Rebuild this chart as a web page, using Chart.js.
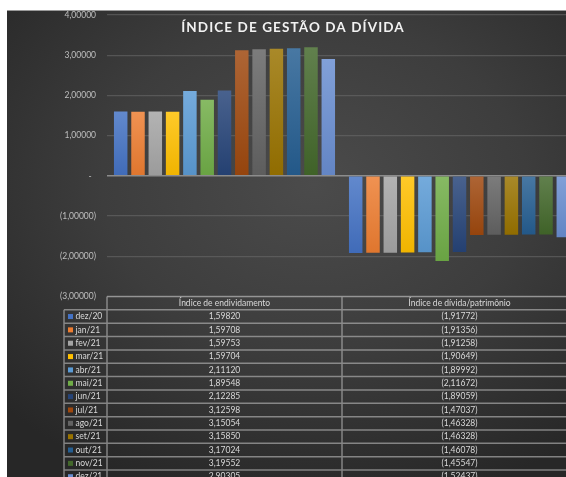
<!DOCTYPE html>
<html>
<head>
<meta charset="utf-8">
<title>Índice de gestão da dívida</title>
<script src="https://cdn.jsdelivr.net/npm/chart.js@4.4.1/dist/chart.umd.min.js"></script>
<style>
  html, body { margin: 0 ; padding: 0 ; background: #ffffff ; width: 566px ; height: 477px ; overflow: hidden ; }
  #moldura {
    position: absolute ; left: 7px ; top: 10px ; width: 590px ; height: 481px ;
    border-top: 1px solid #9a9a9a ;
    background: radial-gradient( ellipse 72% 68% at 52% 36%, #4b4b4b 0%, #3d3d3d 50%, #272727 100% ) ;
  }
  #moldura canvas { position: absolute ; left: 0 ; top: 0 ; }
</style>
</head>
<body>
<div id="moldura"><canvas id="graficoDivida" width="590" height="480"></canvas></div>
<script>
// ---------------- Data ---------------------------------------------------
const titulo = 'ÍNDICE DE GESTÃO DA DÍVIDA' ;
const categorias = [ 'Índice de endividamento', 'Índice de dívida/patrimônio' ] ;
const meses = [ 'dez/20', 'jan/21', 'fev/21', 'mar/21', 'abr/21', 'mai/21', 'jun/21',
                'jul/21', 'ago/21', 'set/21', 'out/21', 'nov/21', 'dez/21' ] ;
const endividamento = [ 1.59820, 1.59708, 1.59753, 1.59704, 2.11120, 1.89548, 2.12285,
                        3.12598, 3.15054, 3.15850, 3.17024, 3.19552, 2.90305 ] ;
const dividaPatrimonio = [ -1.91772, -1.91356, -1.91258, -1.90649, -1.89992, -2.11672, -1.89059,
                           -1.47037, -1.46328, -1.46328, -1.46078, -1.45547, -1.52437 ] ;
const coresSeries = [ '#4472c4', '#ed7d31', '#a5a5a5', '#ffc000', '#5b9bd5', '#70ad47', '#264478',
                      '#9e480e', '#636363', '#997300', '#255e91', '#43682b', '#698ed0' ] ;
const eixoY = { min : -3, max : 4, passo : 1 } ;

// ---------------- Helpers ------------------------------------------------
const corTexto = '#d9d9d9' ;
const corLinhaTabela = 'rgba(190,190,190,0.6)' ;
const fonte = 'Lato, "Open Sans", sans-serif' ;

function formatar( v ) {
    const s = Math.abs( v ).toFixed( 5 ).replace( '.', ',' ) ;
    return v < 0 ? '(' + s + ')' : s ;
}

function misturar( hex, alvo, t ) {
    const a = parseInt( hex.slice( 1 ), 16 ), b = parseInt( alvo.slice( 1 ), 16 ) ;
    const c = [ 16, 8, 0 ].map( s => Math.round( ( ( a >> s ) & 255 ) * ( 1 - t ) + ( ( b >> s ) & 255 ) * t ) ) ;
    return 'rgb(' + c.join( ',' ) + ')' ;
}

function gradienteBarra( context, cor ) {
    const chart = context.chart ;
    const y = chart.scales.y ;
    if( context.type !== 'data' || !y || !context.parsed ) return cor ;
    const v = context.parsed.y ;
    const yTopo = y.getPixelForValue( Math.max( v, 0 ) ) ;
    const yBase = y.getPixelForValue( Math.min( v, 0 ) ) ;
    if( !isFinite( yTopo ) || !isFinite( yBase ) || yTopo === yBase ) return cor ;
    const g = chart.ctx.createLinearGradient( 0, yTopo, 0, yBase ) ;
    g.addColorStop( 0, misturar( cor, '#ffffff', 0.16 ) ) ;
    g.addColorStop( 1, misturar( cor, '#000000', 0.06 ) ) ;
    return g ;
}

// ---------------- Title + data table plugin --------------------------------
const tabelaPlugin = {
    id : 'tabelaDados',
    afterDraw( chart ) {
        const ctx = chart.ctx ;
        const area = chart.chartArea ;
        const x = chart.scales.x ;
        const larguraCat = ( area.right - area.left ) / categorias.length ;
        const alturaLinha = 13.35 ;
        const topo = area.bottom ;
        const esqLegenda = area.left - 43 ;
        const fundo = topo + alturaLinha * ( meses.length + 1 ) ;

        ctx.save() ;

        // title
        ctx.fillStyle = '#f2f2f2' ;
        ctx.font = 'bold 13.5px ' + fonte ;
        ctx.letterSpacing = '1.1px' ;
        ctx.textAlign = 'center' ;
        ctx.textBaseline = 'middle' ;
        ctx.fillText( titulo, 286, 17 ) ;
        ctx.letterSpacing = '0px' ;

        // grid of the table
        ctx.strokeStyle = corLinhaTabela ;
        ctx.lineWidth = 1.5 ;
        ctx.beginPath() ;
        ctx.moveTo( area.left, topo ) ;
        ctx.lineTo( area.right, topo ) ;
        for( let k = 1 ; k <= meses.length + 1 ; k++ ) {
            const yy = topo + alturaLinha * k ;
            ctx.moveTo( esqLegenda, yy ) ;
            ctx.lineTo( area.right, yy ) ;
        }
        ctx.moveTo( esqLegenda, topo + alturaLinha ) ;
        ctx.lineTo( esqLegenda, fundo ) ;
        for( let c = 0 ; c <= categorias.length ; c++ ) {
            const xx = area.left + larguraCat * c ;
            ctx.moveTo( xx, topo ) ;
            ctx.lineTo( xx, fundo ) ;
        }
        ctx.stroke() ;

        // header
        ctx.fillStyle = corTexto ;
        ctx.font = '8.5px ' + fonte ;
        categorias.forEach( ( cat, c ) => {
            ctx.fillText( cat, x.getPixelForValue( c ), topo + alturaLinha / 2 ) ;
        } ) ;

        // rows
        meses.forEach( ( mes, i ) => {
            const yc = topo + alturaLinha * ( i + 1.5 ) ;
            ctx.fillStyle = coresSeries[ i ] ;
            ctx.fillRect( esqLegenda + 4, yc - 2.5, 5, 5 ) ;
            ctx.fillStyle = corTexto ;
            ctx.textAlign = 'left' ;
            ctx.fillText( mes, esqLegenda + 11.5, yc ) ;
            ctx.textAlign = 'center' ;
            ctx.fillText( formatar( endividamento[ i ] ), x.getPixelForValue( 0 ), yc ) ;
            ctx.fillText( formatar( dividaPatrimonio[ i ] ), x.getPixelForValue( 1 ), yc ) ;
        } ) ;

        ctx.restore() ;
    }
} ;

// ---------------- Chart ------------------------------------------------------
const datasets = meses.map( ( mes, i ) => ( {
    label : mes,
    data : [ endividamento[ i ], dividaPatrimonio[ i ] ],
    backgroundColor : ( context ) => gradienteBarra( context, coresSeries[ i ] ),
    borderWidth : 0,
    categoryPercentage : 0.957,
    barPercentage : 0.78
} ) ) ;

const grafico = new Chart( document.getElementById( 'graficoDivida' ), {
    type : 'bar',
    data : { labels : categorias, datasets },
    plugins : [ tabelaPlugin ],
    options : {
        responsive : false,
        animation : false,
        layout : { padding : { top : 4, right : 20, bottom : 194.5, left : 0 } },
        plugins : { legend : { display : false }, title : { display : false }, tooltip : { enabled : false } },
        scales : {
            x : { display : false },
            y : {
                min : eixoY.min,
                max : eixoY.max,
                border : { display : false },
                grid : {
                    drawTicks : false,
                    lineWidth : ( c ) => c.tick && c.tick.value === 0 ? 1.5 : 1.2,
                    color : ( c ) => c.tick && c.tick.value === 0 ? '#8c8c8c' : 'rgba(110,110,110,0.55)'
                },
                ticks : {
                    stepSize : eixoY.passo,
                    padding : 11,
                    color : '#bfbfbf',
                    font : { family : fonte, size : 8.5 },
                    callback : ( v ) => v === 0 ? '-  ' : formatar( v )
                },
                afterFit : ( scale ) => {
                    scale.width = 100 ;
                    scale.paddingTop = 0 ;
                    scale.paddingBottom = 0 ;
                }
            }
        }
    }
} ) ;
</script>
</body>
</html>
